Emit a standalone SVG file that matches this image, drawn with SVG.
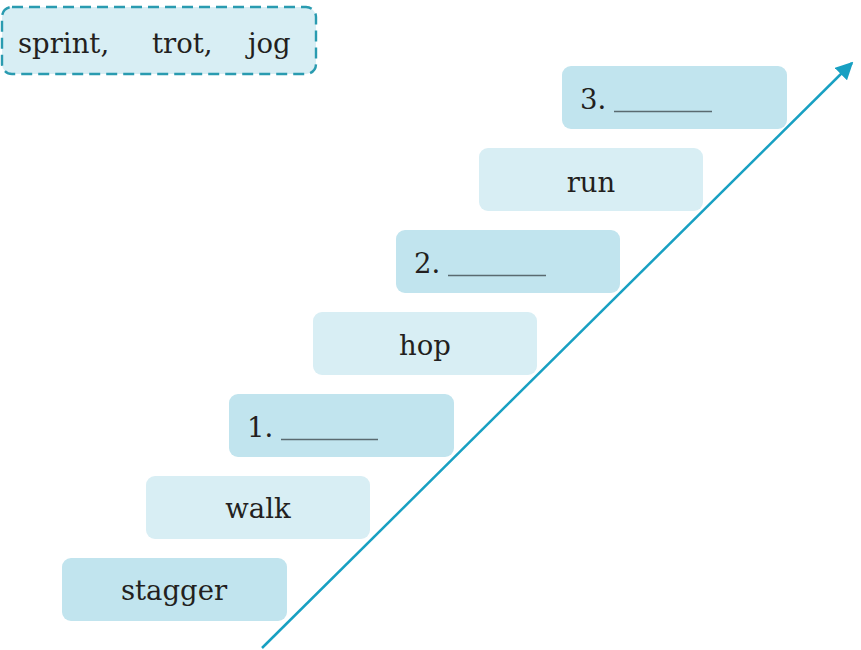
<svg xmlns="http://www.w3.org/2000/svg" width="861" height="650" viewBox="0 0 861 650">
<style>
.dk{fill:#c1e4ee}
.lt{fill:#d8eef4}
.t{font-family:"DejaVu Serif","Liberation Serif",serif;font-size:27.5px;fill:#231f20}
.c{text-anchor:middle}
.u{stroke:#5a6a70;stroke-width:1.6}
</style>
<defs>
<marker id="ah" viewBox="0 0 10 10" refX="9" refY="5" markerWidth="7" markerHeight="7" orient="auto" markerUnits="strokeWidth">
<path d="M0,0 L10,5 L0,10 z" fill="#18a0c2"/>
</marker>
</defs>
<rect width="861" height="650" fill="#ffffff"/>
<g id="wordbank">
<rect x="2" y="7" width="314" height="67" rx="10" fill="#d8eef4" stroke="#2a9bb0" stroke-width="2.4" stroke-dasharray="11,6"/>
<text class="t" y="53"><tspan x="18">sprint,</tspan><tspan x="152">trot,</tspan><tspan x="248">jog</tspan></text>
</g>
<g id="connectors">
<line x1="262" y1="648" x2="852" y2="63" stroke="#18a0c2" stroke-width="2.5" marker-end="url(#ah)"/>
</g>
<g id="stagger">
<rect class="dk" x="62" y="558" width="225" height="63" rx="9"/>
<text class="t c" x="174" y="600">stagger</text>
</g>
<g id="walk">
<rect class="lt" x="146" y="476" width="224" height="63" rx="9"/>
<text class="t c" x="258" y="518">walk</text>
</g>
<g id="blank1">
<rect class="dk" x="229" y="394" width="225" height="63" rx="9"/>
<text class="t" x="247" y="437">1.</text>
<line class="u" x1="281" y1="439.5" x2="378" y2="439.5"/>
</g>
<g id="hop">
<rect class="lt" x="313" y="312" width="224" height="63" rx="9"/>
<text class="t c" x="425" y="355">hop</text>
</g>
<g id="blank2">
<rect class="dk" x="396" y="230" width="224" height="63" rx="9"/>
<text class="t" x="414" y="273">2.</text>
<line class="u" x1="448" y1="275.5" x2="546" y2="275.5"/>
</g>
<g id="run">
<rect class="lt" x="479" y="148" width="224" height="63" rx="9"/>
<text class="t c" x="591" y="192">run</text>
</g>
<g id="blank3">
<rect class="dk" x="562" y="66" width="225" height="63" rx="9"/>
<text class="t" x="580" y="109">3.</text>
<line class="u" x1="614" y1="111.5" x2="712" y2="111.5"/>
</g>
</svg>
